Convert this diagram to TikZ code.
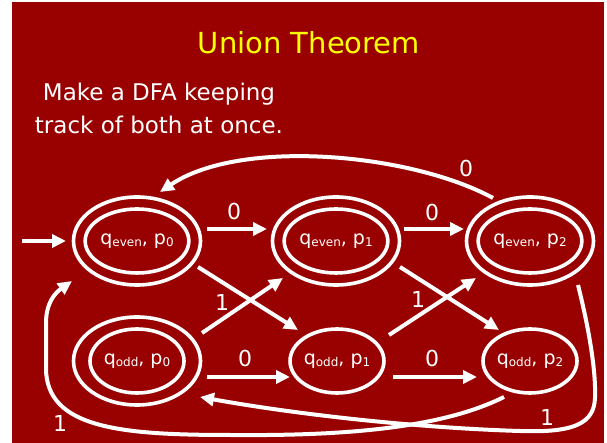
\documentclass[tikz,border=0pt]{standalone}
\usepackage{fontspec}
\setmainfont{DejaVu Sans}
\usetikzlibrary{shapes.geometric,arrows.meta}
\definecolor{slidered}{HTML}{990000}
\definecolor{titleyellow}{HTML}{FFFF00}
% small lowered index used in state names
\newcommand\lowidx[1]{\raisebox{-2.5pt}{\fontsize{12}{14}\selectfont #1}}
% state text: q and p with their indices
\newcommand\pairlabel[2]{q\lowidx{#1}, p\lowidx{#2}}
\begin{document}
\begin{tikzpicture}[x=1pt,y=1pt,
  state/.style={ellipse,draw=white,line width=3.6pt,minimum width=94pt,
    minimum height=64pt,inner sep=0pt,outer sep=0pt,text=white,
    font=\fontsize{19}{22}\selectfont},
  ring/.style={ellipse,draw=white,line width=3.6pt,minimum width=127pt,
    minimum height=88pt,inner sep=0pt,outer sep=0pt},
  edge/.style={draw=white,line width=4pt,-{Triangle[length=14pt,width=13pt]}},
  lbl/.style={text=white,font=\fontsize{22}{26}\selectfont,inner sep=0pt}]
\useasboundingbox (0,0) rectangle (607,443);
\fill[slidered] (12,0) rectangle (604,441);

% heading and explanation
\node[anchor=base,text=titleyellow,font=\fontsize{29}{35}\selectfont] (title) at (309,389) {Union Theorem};
\node[anchor=base,text=white,font=\fontsize{23}{28}\selectfont] (line1) at (159,342) {Make a DFA keeping};
\node[anchor=base,text=white,font=\fontsize{23}{28}\selectfont] (line2) at (159,309) {track of both at once.};

% states
\node[state] (qe0) at (137,202) {\pairlabel{even}{0}};
\node[state] (qe1) at (336,202) {\pairlabel{even}{1}};
\node[state] (qe2) at (530,202) {\pairlabel{even}{2}};
\node[state] (qo0) at (137,82) {\pairlabel{odd}{0}};
\node[state,minimum width=91pt] (qo1) at (337,82) {\pairlabel{odd}{1}};
\node[state] (qo2) at (530,82) {\pairlabel{odd}{2}};

% accepting rings
\node[ring] (qe0r) at (qe0) {};
\node[ring] (qe1r) at (qe1) {};
\node[ring] (qe2r) at (qe2) {};
\node[ring] (qo0r) at (qo0) {};

% start arrow
\coordinate (start) at (22,202);
\draw[edge] (start) -- ([shift={(-71,0)}]qe0.center);

% transitions on 0
\draw[edge] ([shift={(70,12)}]qe0.center) -- ([shift={(-69,12)}]qe1.center);
\draw[edge] ([shift={(68,12)}]qe1.center) -- ([shift={(-66,12)}]qe2.center);
\draw[edge] ([shift={(70,-16)}]qo0.center) -- ([shift={(-47,-16)}]qo1.center);
\draw[edge] ([shift={(56,-16)}]qo1.center) -- ([shift={(-53,-16)}]qo2.center);
\draw[edge] ([shift={(-37,43)}]qe2.center) .. controls (410,290) and (240,305) .. ([shift={(23,49)}]qe0.center);

% transitions on 1
\draw[edge] ([shift={(61,-26)}]qe0.center) -- ([shift={(-39,31)}]qo1.center);
\draw[edge] ([shift={(65,28)}]qo0.center) -- ([shift={(-53,-37)}]qe1.center);
\draw[edge] ([shift={(64,-26)}]qe1.center) -- ([shift={(-31,31)}]qo2.center);
\draw[edge] ([shift={(52,26)}]qo1.center) -- ([shift={(-54,-37)}]qe2.center);
\draw[edge] ([shift={(48,-44)}]qe2.center) .. controls (590,110) and (596,70) .. (595,45)
  .. controls (594,20) and (575,10) .. (520,12)
  .. controls (420,15) and (300,28) .. ([shift={(63,-36)}]qo0.center);
\draw[edge] ([shift={(-26,-36)}]qo2.center) .. controls (440,14) and (340,7) .. (230,8)
  .. controls (120,8) and (46,15) .. (46,75)
  -- (46,120) .. controls (46,140) and (55,150) .. ([shift={(-65,-40)}]qe0.center);

% edge labels
\node[lbl] (z1) at (234,232) {0};
\node[lbl] (z2) at (432,231) {0};
\node[lbl] (z3) at (245,85) {0};
\node[lbl] (z4) at (432,85) {0};
\node[lbl] (z5) at (466,275) {0};
\node[lbl] (o1) at (222,141) {1};
\node[lbl] (o2) at (418,144) {1};
\node[lbl] (o3) at (547,26) {1};
\node[lbl] (o4) at (60,20) {1};
\end{tikzpicture}
\end{document}
